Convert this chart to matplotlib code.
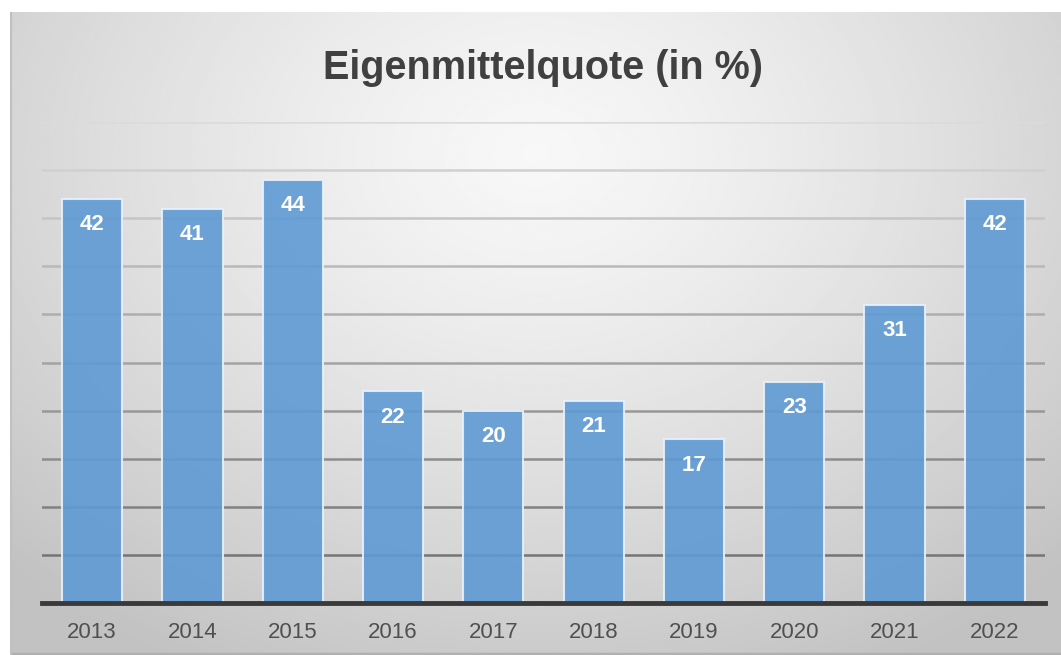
import numpy as np
import matplotlib.pyplot as plt
from matplotlib import font_manager

years = ["2013", "2014", "2015", "2016", "2017", "2018", "2019", "2020", "2021", "2022"]
quote = [42, 41, 44, 22, 20, 21, 17, 23, 31, 42]
title = "Eigenmittelquote (in %)"

names = {f.name for f in font_manager.fontManager.ttflist}
narrow = "Liberation Sans Narrow" if "Liberation Sans Narrow" in names else "Liberation Sans"
plt.rcParams['font.family'] = [narrow, 'DejaVu Sans']

fig = plt.figure(figsize=(10.61, 6.55), dpi=100)

# panel background with radial gradient
bg = fig.add_axes([10 / 1061, 0, 1 - 10 / 1061, 1 - 12 / 655])
bg.set_axis_off()
yy, xx = np.mgrid[0:1:300j, 0:1:500j]
r = np.sqrt(((xx - 0.5) / 0.72) ** 2 + ((yy - 0.22) / 0.9) ** 2)
shade = 0.97 - 0.21 * np.clip(r, 0, 1) ** 1.3
bg.imshow(shade, cmap="gray", vmin=0, vmax=1, aspect="auto",
          extent=[0, 1, 1, 0], interpolation="bilinear")
bg.plot([0, 1], [0.002, 0.002], color="#b0b0b0", lw=2.5, transform=bg.transAxes)
bg.plot([0.001, 0.001], [0, 1], color="#c0c0c0", lw=1.5, transform=bg.transAxes)
bg.set_xlim(0, 1)
bg.set_ylim(1, 0)

ax = fig.add_axes([42 / 1061, 52 / 655, 1003 / 1061, 481 / 655])
ax.patch.set_alpha(0)
x = np.arange(len(years))
ax.set_xlim(-0.5, len(years) - 0.5)
ax.set_ylim(0, 50)

ticks = np.arange(5, 51, 5)
for i, t in enumerate(ticks):
    c = 0.46 + 0.40 * i / (len(ticks) - 1)
    ax.axhline(t, color=(c, c, c), lw=1.8, zorder=1)

ax.bar(x, quote, width=0.6, color="#5f9ad4", alpha=0.9,
       edgecolor="#e8f1fb", linewidth=1.5, zorder=2)
for xi, v in zip(x, quote):
    ax.text(xi, v - 2.7, str(v), ha="center", va="center", color="white",
            fontsize=16, fontweight="bold", zorder=3)

ax.axhline(0, color="#3a3a3a", lw=3.5, zorder=4, clip_on=False)

ax.set_xticks(x)
ax.set_xticklabels(years, fontsize=16, color="#505050")
ax.set_yticks([])
ax.tick_params(axis="x", length=0, pad=14)
for s in ax.spines.values():
    s.set_visible(False)

fig.text(543 / 1061, 1 - 68 / 655, title, ha="center", va="center",
         fontsize=28.5, fontweight="bold", color="#404040")

fig.savefig("out.png", dpi=100)
